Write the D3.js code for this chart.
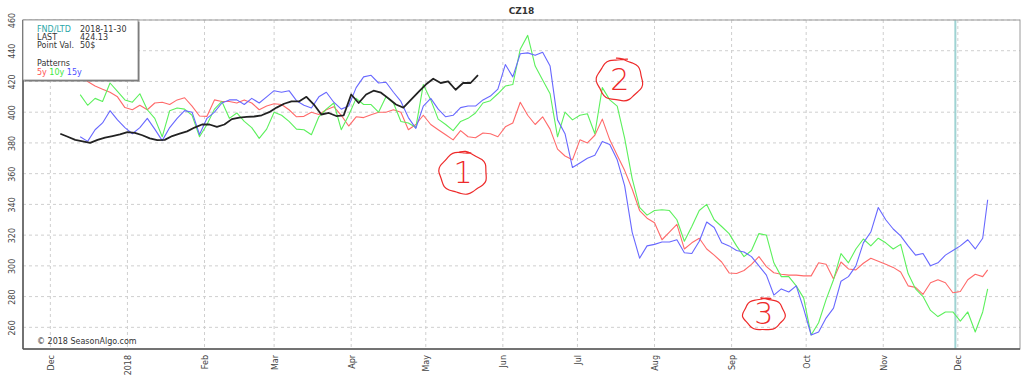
<!DOCTYPE html>
<html><head><meta charset="utf-8">
<script src="https://cdn.jsdelivr.net/npm/d3@7"></script>
<style>
body{margin:0;background:#fff;}
svg{display:block;font-family:"DejaVu Sans",sans-serif;}
</style></head><body>
<svg id="c" width="1024" height="380"></svg>
<script>
// ---------- data ----------
const patternDates = [
"2017-12-13","2017-12-16","2017-12-19","2017-12-22","2017-12-25","2017-12-28","2017-12-31",
"2018-01-03","2018-01-06","2018-01-09","2018-01-12","2018-01-15","2018-01-18","2018-01-21","2018-01-24","2018-01-27","2018-01-30",
"2018-02-02","2018-02-05","2018-02-08","2018-02-11","2018-02-14","2018-02-17","2018-02-20","2018-02-23","2018-02-26",
"2018-03-01","2018-03-04","2018-03-07","2018-03-10","2018-03-13","2018-03-16","2018-03-19","2018-03-22","2018-03-25","2018-03-28","2018-03-31",
"2018-04-03","2018-04-06","2018-04-09","2018-04-12","2018-04-15","2018-04-18","2018-04-21","2018-04-24","2018-04-27","2018-04-30",
"2018-05-03","2018-05-06","2018-05-09","2018-05-12","2018-05-15","2018-05-18","2018-05-21","2018-05-24","2018-05-27","2018-05-30",
"2018-06-02","2018-06-05","2018-06-08","2018-06-11","2018-06-14","2018-06-17","2018-06-20","2018-06-23","2018-06-26","2018-06-29",
"2018-07-02","2018-07-05","2018-07-08","2018-07-11","2018-07-14","2018-07-17","2018-07-20","2018-07-23","2018-07-26","2018-07-29",
"2018-08-01","2018-08-04","2018-08-07","2018-08-10","2018-08-13","2018-08-16","2018-08-19","2018-08-22","2018-08-25","2018-08-28","2018-08-31",
"2018-09-03","2018-09-06","2018-09-09","2018-09-12","2018-09-15","2018-09-18","2018-09-21","2018-09-24","2018-09-27","2018-09-30",
"2018-10-03","2018-10-06","2018-10-09","2018-10-12","2018-10-15","2018-10-18","2018-10-21","2018-10-24","2018-10-27","2018-10-30",
"2018-11-02","2018-11-05","2018-11-08","2018-11-11","2018-11-14","2018-11-17","2018-11-20","2018-11-23","2018-11-26","2018-11-29",
"2018-12-02","2018-12-05","2018-12-08","2018-12-11","2018-12-13"];

const fiveYear = [
424,420,417,415,413,410,403,401.6,404.5,401.6,406,406.5,405,408,409.4,404,397.5,397.3,408,407,407,406,408,406,401.6,404,405.5,
405,401.6,397,397.3,400,398.5,401.6,403.6,398,391,397,396.5,398.4,400,400,401.6,400,388.6,392,398,392,388.6,385.3,382,388,384,
383.4,386.5,386,384,390.5,393,406.5,398,392,397,389,376,371.5,369,382,380,385,395.5,382,372,362,350,336,331,328,317,322,327,
311,315,318,311,307,302.5,295.4,295,297,301,306,299.5,295.5,294.5,294,294,293.5,293.5,302,301,291.5,302.5,298,297.4,301.7,305,
303,301,299,296,287,286,281.5,289,291,289,282.5,283.3,291,294.5,293,297.4];

const tenYear = [
411.4,404.5,409,407,419,413.6,408,406.5,412,401.6,396,384,401,402.7,402,398,384,392,402,407,396,399.5,394,390,383,389,400,
398,394,389,388.6,385.3,397,402,406,388.6,398,409,405,405,400,410,406,394,393,390,418,408,395.5,392,388,394,396,
399.5,406,407.5,412,417,418,441,450,430,421,412,384,400,395,398,399,386,416,408,404,383,357,338,333,336,336.5,336,330,
316,325.6,336,340,330,325.6,321,313,306,310,321,320,302,293,293,287,279,255,263,278,291,308,302,311,317.5,313,
318,315,311,314,295,285,280,271,267,270,270,264,270,257,270,285];

const fifteenYear = [
384,381,388.6,393,401,395,390,386,390,396,389,381.5,390,396,401,400,385.5,396,400,406,408,408,405,409,406,410,414,
413,414,407.5,404.5,402.7,410,413,406.5,402,404,416,423,424,419,419.5,413,407,396.5,389.5,404,409,402,397,398,403,404,
404,408,410.5,415,431,423,438,438.6,437,439,430,395,386,364,367,370,372,381,379,369,352,322,305,313,314,315.5,315.5,317,
308.5,308,316,328.5,325,315,313,310,309,306,300,294,281,285,283,287,272,255,257,266,272.5,290,293,300,315,322,
338,330,324,319.5,313,307,308,300,302,307,310,313,317,311,318,343];

const currentDates = [
"2017-12-05","2017-12-08","2017-12-11","2017-12-14","2017-12-17","2017-12-20","2017-12-23","2017-12-26","2017-12-29",
"2018-01-01","2018-01-04","2018-01-07","2018-01-10","2018-01-13","2018-01-16","2018-01-19","2018-01-22","2018-01-25","2018-01-28","2018-01-31",
"2018-02-03","2018-02-06","2018-02-09","2018-02-12","2018-02-15","2018-02-18","2018-02-21","2018-02-24","2018-02-27",
"2018-03-02","2018-03-05","2018-03-08","2018-03-11","2018-03-14","2018-03-17","2018-03-20","2018-03-23","2018-03-26","2018-03-29",
"2018-04-01","2018-04-04","2018-04-07","2018-04-10","2018-04-13","2018-04-16","2018-04-19","2018-04-22","2018-04-25","2018-04-28",
"2018-05-01","2018-05-04","2018-05-07","2018-05-10","2018-05-13","2018-05-16","2018-05-19","2018-05-22"];
const currentValues = [
386,384,382,381,380,382,383.5,384.5,385.5,387,386.5,385,383,381.8,382,384.5,386,387.5,390,392,392,390.5,392,395.5,396.5,397,397.2,
398,400,403,405.5,407,407,410,405,398.5,399.5,397.5,398,411.5,406,411.5,414,412.7,409,405,403,408,413,418,421.8,419,420,414.6,
419,419,424.13];

const yTicks = [260,280,300,320,340,360,380,400,420,440,460];
const xTickDates = ["2017-12-01","2018-01-01","2018-02-01","2018-03-01","2018-04-01","2018-05-01","2018-06-01",
  "2018-07-01","2018-08-01","2018-09-01","2018-10-01","2018-11-01","2018-12-01"];
const xTickLabels = ["Dec","2018","Feb","Mar","Apr","May","Jun","Jul","Aug","Sep","Oct","Nov","Dec"];

const chartTitle = "CZ18";
const infoLabels = ["FND/LTD","LAST","Point Val."];
const infoValues = ["2018-11-30","424.13","50$"];
const patternNames = ["5y","10y","15y"];
const fndDate = "2018-11-30";
const copyright = "© 2018 SeasonAlgo.com";

const annoLabels = ["1","2","3"];
const annoDates = ["2018-05-16","2018-07-18","2018-09-14"];
const annoValues = [360.5, 421, 268.5];

// ---------- drawing ----------
const parse = d3.timeParse("%Y-%m-%d");
const W = 1024, H = 380;
const m = {left:23, top:20, right:4, bottom:31};
const svg = d3.select("#c");

const x = d3.scaleTime()
  .domain([parse("2017-11-20"), parse("2018-12-26")])
  .range([m.left, W - m.right]);
const y = d3.scaleLinear()
  .domain([245.9, 460])
  .range([H - m.bottom, m.top]);

const colors = {red:"#ff6a6a", green:"#5cf05c", blue:"#6868ff", black:"#222"};

// grid
const grid = svg.append("g");
grid.selectAll(".hg").data(yTicks).join("line")
  .attr("x1", m.left).attr("x2", W - m.right)
  .attr("y1", d => y(d)).attr("y2", d => y(d))
  .attr("stroke", "#cfcfcf").attr("stroke-width", 1).attr("stroke-dasharray", "3,3");
grid.selectAll(".vg").data(xTickDates).join("line")
  .attr("x1", d => x(parse(d))).attr("x2", d => x(parse(d)))
  .attr("y1", m.top).attr("y2", H - m.bottom)
  .attr("stroke", "#cfcfcf").attr("stroke-width", 1).attr("stroke-dasharray", "3,3");

// FND line
svg.append("line")
  .attr("x1", x(parse(fndDate))).attr("x2", x(parse(fndDate)))
  .attr("y1", m.top).attr("y2", H - m.bottom)
  .attr("stroke", "#9fd3d3").attr("stroke-width", 2);

// series
const line = d3.line().x(d => x(d[0])).y(d => y(d[1]));
const pd = patternDates.map(parse);
const series = [
  {vals: fiveYear, color: colors.red},
  {vals: tenYear, color: colors.green},
  {vals: fifteenYear, color: colors.blue}
];
series.forEach(s => {
  svg.append("path")
    .datum(s.vals.map((v, i) => [pd[i], v]))
    .attr("d", line).attr("fill", "none")
    .attr("stroke", s.color).attr("stroke-width", 1.1)
    .attr("stroke-linejoin", "round");
});
svg.append("path")
  .datum(currentValues.map((v, i) => [parse(currentDates[i]), v]))
  .attr("d", line).attr("fill", "none")
  .attr("stroke", colors.black).attr("stroke-width", 1.8)
  .attr("stroke-linejoin", "round");

// frame
svg.append("rect")
  .attr("x", m.left).attr("y", m.top)
  .attr("width", W - m.left - m.right).attr("height", H - m.top - m.bottom)
  .attr("fill", "none").attr("stroke", "#9a9a9a").attr("stroke-width", 1);
svg.append("line").attr("x1", m.left).attr("x2", m.left).attr("y1", m.top).attr("y2", H - m.bottom)
  .attr("stroke", "#555").attr("stroke-width", 1.5);
svg.append("line").attr("x1", m.left).attr("x2", W - m.right).attr("y1", H - m.bottom).attr("y2", H - m.bottom)
  .attr("stroke", "#555").attr("stroke-width", 1.5);

// axes
const yAxis = d3.axisLeft(y).tickValues(yTicks).tickSize(0).tickFormat(d3.format("d"));
const ga = svg.append("g").attr("transform", `translate(${m.left},0)`).call(yAxis);
ga.select(".domain").remove();
ga.selectAll("text")
  .attr("font-family", "DejaVu Sans").attr("font-size", 8).attr("fill", "#444")
  .attr("x", 0).attr("dy", 0).attr("text-anchor", "middle")
  .attr("transform", `translate(${15 - m.left},0) rotate(-90)`)
  .attr("y", 0);

const xAxis = d3.axisBottom(x).tickValues(xTickDates.map(parse)).tickSize(0)
  .tickFormat((d, i) => xTickLabels[i]);
const gx = svg.append("g").attr("transform", `translate(0,${H - m.bottom})`).call(xAxis);
gx.select(".domain").remove();
gx.selectAll("text")
  .attr("font-family", "DejaVu Sans").attr("font-size", 8).attr("fill", "#444")
  .attr("text-anchor", "end").attr("dy", 0).attr("y", 0)
  .attr("transform", "translate(3,6) rotate(-90)");

// title
svg.append("text").attr("x", (m.left + W - m.right) / 2).attr("y", 14)
  .attr("text-anchor", "middle").attr("font-size", 9).attr("font-weight", "bold")
  .attr("fill", "#333").text(chartTitle);

// info box
const box = svg.append("g");
box.append("rect").attr("x", m.left + 1.5).attr("y", m.top + 1.5).attr("width", 115).attr("height", 60)
  .attr("fill", "#777");
box.append("rect").attr("x", m.left).attr("y", m.top).attr("width", 115).attr("height", 60)
  .attr("fill", "#fff").attr("stroke", "#888").attr("stroke-width", 0.8);
const infoColors = ["#2aa7a7", "#333", "#333"];
infoLabels.forEach((t, i) => {
  box.append("text").attr("x", 37).attr("y", 32 + i * 8.2).attr("font-size", 8)
    .attr("fill", infoColors[i]).text(t);
  box.append("text").attr("x", 80).attr("y", 32 + i * 8.2).attr("font-size", 8)
    .attr("fill", "#333").text(infoValues[i]);
});
box.append("text").attr("x", 37).attr("y", 66).attr("font-size", 8).attr("fill", "#333").text("Patterns");
const legColors = ["#ff5555", "#3ee83e", "#5050ff"];
const lt = box.append("text").attr("x", 37).attr("y", 74.5).attr("font-size", 8);
patternNames.forEach((t, i) => {
  lt.append("tspan").attr("fill", legColors[i]).text((i ? " " : "") + t);
});

// copyright
svg.append("text").attr("x", 37).attr("y", 344).attr("font-size", 8).attr("fill", "#333").text(copyright);

// hand-drawn annotations
const annoShape = [
  {rx: 24, ry: 21},
  {rx: 23, ry: 21},
  {rx: 21, ry: 16}
];
annoLabels.forEach((t, i) => {
  const cx = x(parse(annoDates[i])), cy = y(annoValues[i]);
  const s = annoShape[i];
  const pts = d3.range(0, 27).map(k => {
    const a = -Math.PI * 0.55 + k * (2 * Math.PI * 1.08) / 26;
    const wob = 1 + 0.06 * Math.sin(k * 1.7 + i);
    return [cx + s.rx * wob * Math.cos(a), cy + s.ry * wob * Math.sin(a)];
  });
  svg.append("path").attr("d", d3.line().curve(d3.curveBasis)(pts))
    .attr("fill", "none").attr("stroke", "#ee2a2a").attr("stroke-width", 1.2);
  svg.append("text").attr("x", cx).attr("y", cy + 10).attr("text-anchor", "middle")
    .attr("font-size", 30).attr("font-weight", 200).attr("font-family", "DejaVu Sans")
    .attr("fill", "#ee2a2a").text(t);
});
</script>
</body></html>
